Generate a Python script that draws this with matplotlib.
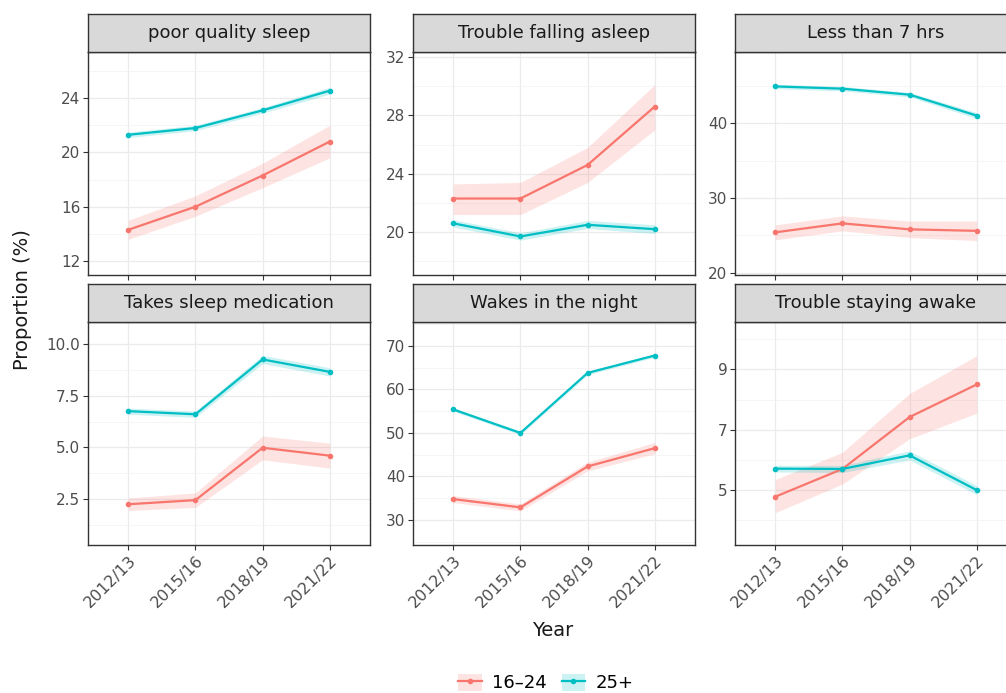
import matplotlib
matplotlib.use("Agg")
import matplotlib.pyplot as plt
from matplotlib.lines import Line2D
from matplotlib.patches import Patch
from matplotlib.ticker import FixedLocator, FormatStrFormatter

# ---------------- data ----------------
years = ["2012/13", "2015/16", "2018/19", "2021/22"]
panels = ["poor quality sleep", "Trouble falling asleep", "Less than 7 hrs",
          "Takes sleep medication", "Wakes in the night", "Trouble staying awake"]
groups = ["16\u201324", "25+"]

# 16-24
young_poor = [14.3, 16.0, 18.3, 20.8]
young_poor_lo = [13.6, 15.3, 17.4, 19.6]
young_poor_hi = [15.0, 16.8, 19.2, 22.0]
young_fall = [22.3, 22.3, 24.6, 28.6]
young_fall_lo = [21.2, 21.2, 23.4, 27.0]
young_fall_hi = [23.3, 23.4, 25.8, 30.1]
young_less7 = [25.4, 26.6, 25.8, 25.6]
young_less7_lo = [24.4, 25.6, 24.7, 24.3]
young_less7_hi = [26.4, 27.6, 26.9, 26.9]
young_med = [2.25, 2.45, 4.98, 4.6]
young_med_lo = [1.95, 2.1, 4.4, 4.0]
young_med_hi = [2.55, 2.8, 5.55, 5.2]
young_wake = [34.8, 32.9, 42.3, 46.5]
young_wake_lo = [34.0, 32.1, 41.3, 45.2]
young_wake_hi = [35.6, 33.7, 43.3, 47.8]
young_awake = [4.78, 5.7, 7.42, 8.5]
young_awake_lo = [4.25, 5.2, 6.7, 7.55]
young_awake_hi = [5.35, 6.25, 8.2, 9.45]

# 25+
old_poor = [21.3, 21.8, 23.1, 24.55]
old_poor_lo = [21.1, 21.6, 22.9, 24.3]
old_poor_hi = [21.5, 22.0, 23.3, 24.8]
old_fall = [20.6, 19.7, 20.5, 20.2]
old_fall_lo = [20.35, 19.45, 20.25, 19.9]
old_fall_hi = [20.85, 19.95, 20.8, 20.5]
old_less7 = [44.9, 44.6, 43.8, 41.0]
old_less7_lo = [44.6, 44.3, 43.5, 40.6]
old_less7_hi = [45.2, 44.9, 44.1, 41.4]
old_med = [6.75, 6.6, 9.25, 8.65]
old_med_lo = [6.6, 6.45, 9.05, 8.45]
old_med_hi = [6.9, 6.75, 9.45, 8.85]
old_wake = [55.4, 50.0, 63.8, 67.8]
old_wake_lo = [55.0, 49.6, 63.4, 67.4]
old_wake_hi = [55.8, 50.4, 64.2, 68.2]
old_awake = [5.71, 5.7, 6.15, 5.0]
old_awake_lo = [5.6, 5.58, 6.0, 4.85]
old_awake_hi = [5.82, 5.82, 6.3, 5.15]

young = [(young_poor, young_poor_lo, young_poor_hi),
         (young_fall, young_fall_lo, young_fall_hi),
         (young_less7, young_less7_lo, young_less7_hi),
         (young_med, young_med_lo, young_med_hi),
         (young_wake, young_wake_lo, young_wake_hi),
         (young_awake, young_awake_lo, young_awake_hi)]
old = [(old_poor, old_poor_lo, old_poor_hi),
       (old_fall, old_fall_lo, old_fall_hi),
       (old_less7, old_less7_lo, old_less7_hi),
       (old_med, old_med_lo, old_med_hi),
       (old_wake, old_wake_lo, old_wake_hi),
       (old_awake, old_awake_lo, old_awake_hi)]

yticks = [[12, 16, 20, 24], [20, 24, 28, 32], [20, 30, 40],
          [2.5, 5.0, 7.5, 10.0], [30, 40, 50, 60, 70], [5, 7, 9]]
ylims = [(10.97, 27.4), (17.06, 32.34), (19.7, 49.5),
         (0.28, 11.06), (24.25, 75.5), (3.18, 10.57)]
yfmt = ["%d", "%d", "%d", "%.1f", "%d", "%d"]

# ---------------- style ----------------
plt.rcParams['font.family'] = ['DejaVu Sans']
C_Y = "#F8766D"
C_O = "#00BFC4"
W, H = 1006, 693
fig = plt.figure(figsize=(W / 100, H / 100), dpi=100)

col_left = [88, 413, 735]
row_top = [52, 322]
pw, ph = 282, 223
strip_h = 38
x = list(range(len(years)))

for i, name in enumerate(panels):
    r, c = divmod(i, 3)
    l = col_left[c]
    t = row_top[r]
    ax = fig.add_axes([l / W, 1 - (t + ph) / H, pw / W, ph / H])
    sax = fig.add_axes([l / W, 1 - t / H, pw / W, strip_h / H])
    sax.set_facecolor("#D9D9D9")
    sax.set_xticks([]); sax.set_yticks([])
    for s in sax.spines.values():
        s.set_color("#333333"); s.set_linewidth(1.0)
    sax.text(0.5, 0.5, name, ha="center", va="center", fontsize=13,
             color="#1A1A1A", transform=sax.transAxes)

    for (vals, lo, hi), col in ((young[i], C_Y), (old[i], C_O)):
        ax.fill_between(x, lo, hi, color=col, alpha=0.2, lw=0, zorder=2)
        ax.plot(x, vals, color=col, lw=1.6, marker="o", ms=3, zorder=3)

    ax.set_xlim(-0.6, 3.6)
    ax.set_ylim(*ylims[i])
    ax.set_xticks(x)
    if r == 1:
        ax.set_xticklabels(years, rotation=45, ha="right", va="top",
                           rotation_mode="anchor", fontsize=11.5, color="#4D4D4D")
    else:
        ax.set_xticklabels([])
        ax.tick_params(axis="x", length=0)
    ax.set_yticks(yticks[i])
    ax.yaxis.set_major_formatter(FormatStrFormatter(yfmt[i]))
    step = yticks[i][1] - yticks[i][0]
    minors = [yticks[i][0] - step / 2 + k * step for k in range(len(yticks[i]) + 1)]
    ax.yaxis.set_minor_locator(FixedLocator(minors))
    ax.tick_params(axis="y", which="minor", length=0)
    ax.tick_params(axis="both", which="major", length=3.5, width=0.8,
                   color="#333333", labelcolor="#4D4D4D", pad=2)
    ax.tick_params(axis="y", which="major", labelsize=11)
    ax.grid(True, which="major", color="#EBEBEB", lw=0.9, zorder=0)
    ax.grid(True, which="minor", axis="y", color="#F2F2F2", lw=0.5, zorder=0)
    ax.set_axisbelow(True)
    for s in ax.spines.values():
        s.set_color("#333333"); s.set_linewidth(1.0)

fig.text(23 / W, 1 - 300 / H, "Proportion (%)", rotation=90, ha="center",
         va="center", fontsize=14, color="#1A1A1A")
fig.text(553 / W, 1 - 630 / H, "Year", ha="center", va="center",
         fontsize=14, color="#1A1A1A")

handles = [(Patch(facecolor=C_Y, alpha=0.2, lw=0),
            Line2D([], [], color=C_Y, lw=1.6, marker="o", ms=3)),
           (Patch(facecolor=C_O, alpha=0.2, lw=0),
            Line2D([], [], color=C_O, lw=1.6, marker="o", ms=3))]
fig.legend(handles, groups, loc="center", bbox_to_anchor=(546 / W, 1 - 683 / H),
           ncol=2, frameon=False, fontsize=13, handlelength=1.3,
           handleheight=1.1, handletextpad=0.6, columnspacing=0.8,
           borderpad=0.1)

fig.savefig("out.png", dpi=100)
